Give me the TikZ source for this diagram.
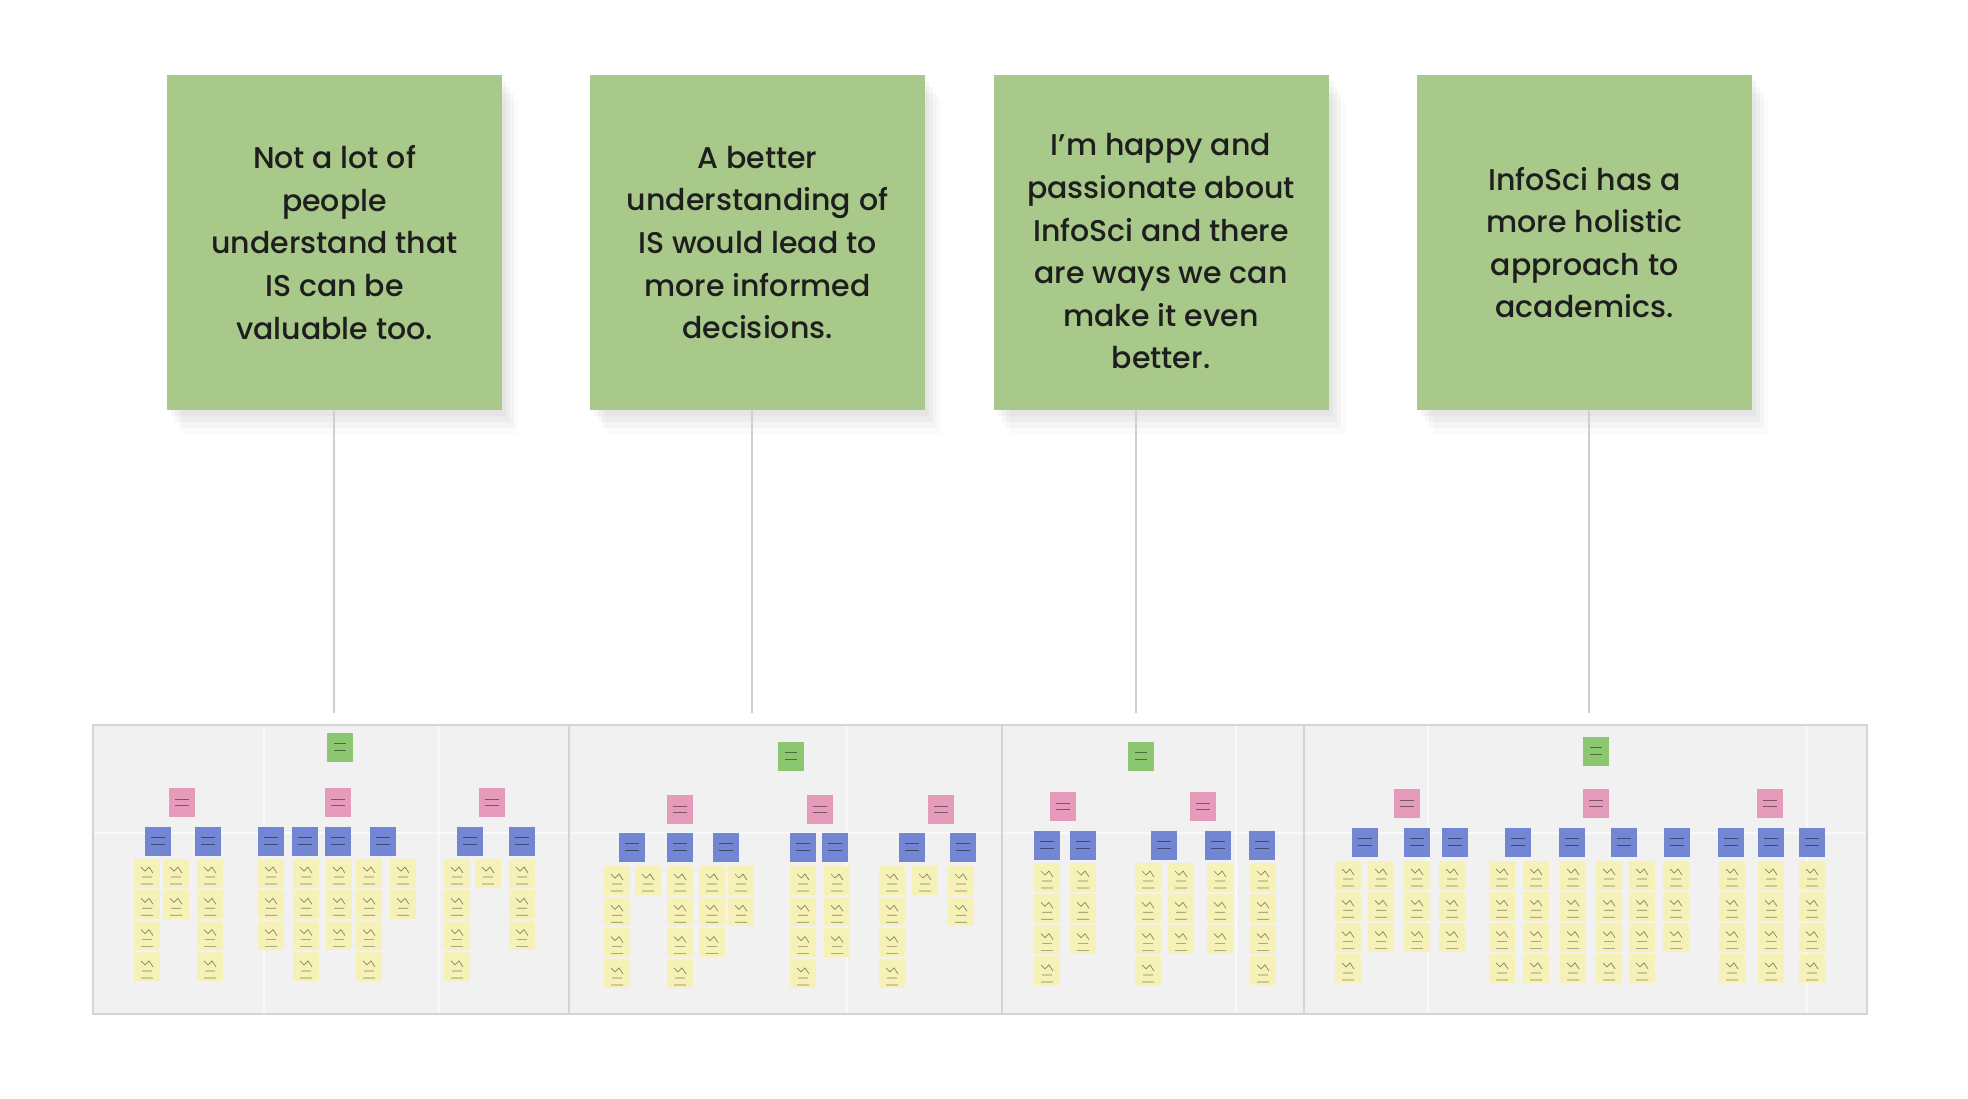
\documentclass[tikz,border=0pt]{standalone}
\usepackage{fontspec}
\setmainfont{Poppins}[UprightFont=* Medium]
\usetikzlibrary{shadows}

\definecolor{cardgreen}{HTML}{A9C98A}
\definecolor{textdark}{HTML}{1E1E1E}
\definecolor{linegray}{HTML}{CFCFCF}
\definecolor{stripgray}{HTML}{F1F1F1}
\definecolor{divgray}{HTML}{D4D4D4}
\definecolor{notegreen}{HTML}{8DC670}
\definecolor{notepink}{HTML}{E69BBA}
\definecolor{noteblue}{HTML}{7386D4}
\definecolor{noteyellow}{HTML}{F6F1B6}

\tikzset{
  card/.style={fill=cardgreen, minimum width=167.5pt, minimum height=167.5pt,
    inner sep=0pt, align=center, text=textdark,
    font=\fontsize{15}{21.3}\selectfont,
    drop shadow={shadow xshift=2pt, shadow yshift=-3pt, opacity=0.07},
    drop shadow={shadow xshift=4pt, shadow yshift=-6pt, opacity=0.06},
    drop shadow={shadow xshift=6pt, shadow yshift=-9pt, opacity=0.05},
    drop shadow={shadow xshift=8pt, shadow yshift=-12pt, opacity=0.03}},
  link/.style={linegray, line width=1.1pt},
  scribble/.style={black, opacity=0.45, line width=0.35pt},
  sticky/.style={minimum width=13pt, minimum height=14.5pt, inner sep=0pt},
  greennote/.style={sticky, fill=notegreen, path picture={
    \draw[scribble] ([xshift=-3pt,yshift=2pt]path picture bounding box.center) -- ++(6pt,0pt)
      ([xshift=-3pt,yshift=-1.5pt]path picture bounding box.center) -- ++(6pt,0pt);}},
  pinknote/.style={sticky, fill=notepink, path picture={
    \draw[scribble] ([xshift=-3.5pt,yshift=1.5pt]path picture bounding box.center) -- ++(7pt,0pt)
      ([xshift=-3.5pt,yshift=-1.5pt]path picture bounding box.center) -- ++(7pt,0pt);}},
  bluenote/.style={sticky, fill=noteblue, path picture={
    \draw[scribble] ([xshift=-3.5pt,yshift=2pt]path picture bounding box.center) -- ++(7pt,0pt)
      ([xshift=-3.5pt,yshift=-1.5pt]path picture bounding box.center) -- ++(7pt,0pt);}},
  yellownote/.style={sticky, fill=noteyellow, path picture={
    \draw[scribble] ([xshift=-3pt,yshift=3pt]path picture bounding box.center)
      -- ++(2pt,-2pt) -- ++(2pt,2pt) -- ++(2pt,-3pt)
      ([xshift=-2.5pt,yshift=-2pt]path picture bounding box.center) -- ++(5pt,0pt)
      ([xshift=-3pt,yshift=-5.5pt]path picture bounding box.center) -- ++(6pt,0pt);}}
}

\begin{document}
\begin{tikzpicture}[x=0.5pt,y=-0.5pt]
\useasboundingbox[fill=white] (0,0) rectangle (1968,1098);

% statement cards
\node[card] (card1) at (334.5,242.5) {Not a lot of\\people\\understand that\\IS can be\\valuable too.};
\node[card] (card2) at (757.5,242.5) {A better\\understanding of\\IS would lead to\\more informed\\decisions.};
\node[card] (card3) at (1161,242.5) {\rule{0pt}{20pt}I’m happy and\\passionate about\\InfoSci and there\\are ways we can\\make it even\\better.};
\node[card] (card4) at (1584.5,242.5) {InfoSci has a\\more holistic\\approach to\\academics.};

% board strip
\fill[stripgray] (93,725) rectangle (1867,1014);
\foreach \x in {264,439,847,1236,1428,1807}
  \draw[white, line width=1.2pt, opacity=0.6] (\x,726) -- (\x,1013);
\draw[white, line width=1.2pt, opacity=0.6] (94,833) -- (1866,833);
\draw[divgray, line width=0.8pt] (93,725) rectangle (1867,1014);
\foreach \x in {569,1002,1304}
  \draw[divgray, line width=1.2pt] (\x,725) -- (\x,1014);

% connectors
\coordinate (e1) at (334,713);
\coordinate (e2) at (752,713);
\coordinate (e3) at (1136,713);
\coordinate (e4) at (1589,713);
\foreach \i in {1,...,4}
  \draw[link] (card\i.south -| e\i) -- (e\i);

% top notes
\foreach \x/\y [count=\i] in {340/747, 791/756, 1141/756, 1596/751}
  \node[greennote] (g\i) at (\x,\y) {};

% section 1
\foreach \x [count=\i] in {182,338,492}
  \node[pinknote] (p1-\i) at (\x,802) {};
\foreach \x [count=\i] in {158,208,271,305,338,383,470,522}
  \node[bluenote] (b1-\i) at (\x,841) {};
\foreach \x/\n [count=\i] in {147/4,176/2,210/4,271/3,306/4,339/3,369/4,403/2,457/4,488/1,522/3}
  \foreach \r in {1,...,\n}
    \node[yellownote] (y1-\i-\r) at (\x,{873+(\r-1)*31.3}) {};

% section 2
\foreach \x [count=\i] in {680,820,941}
  \node[pinknote] (p2-\i) at (\x,809) {};
\foreach \x [count=\i] in {632,680,726,803,835,912,963}
  \node[bluenote] (b2-\i) at (\x,847) {};
\foreach \x/\n [count=\i] in {617/4,648/1,680/4,712/3,741/2,803/4,837/3,892/4,925/1,961/2}
  \foreach \r in {1,...,\n}
    \node[yellownote] (y2-\i-\r) at (\x,{880+(\r-1)*31.3}) {};

% section 3
\foreach \x [count=\i] in {1063,1203}
  \node[pinknote] (p3-\i) at (\x,806) {};
\foreach \x [count=\i] in {1047,1083,1164,1218,1262}
  \node[bluenote] (b3-\i) at (\x,845) {};
\foreach \x/\n [count=\i] in {1047/4,1083/3,1148/4,1181/3,1220/3,1263/4}
  \foreach \r in {1,...,\n}
    \node[yellownote] (y3-\i-\r) at (\x,{877+(\r-1)*31.3}) {};

% section 4
\foreach \x [count=\i] in {1407,1596,1770}
  \node[pinknote] (p4-\i) at (\x,803) {};
\foreach \x [count=\i] in {1365,1417,1455,1518,1572,1624,1677,1731,1771,1812}
  \node[bluenote] (b4-\i) at (\x,842) {};
\foreach \x/\n [count=\i] in {1348/4,1381/3,1417/3,1452/3,1502/4,1536/4,1573/4,1609/4,1642/4,1676/3,1732/4,1771/4,1812/4}
  \foreach \r in {1,...,\n}
    \node[yellownote] (y4-\i-\r) at (\x,{875+(\r-1)*31.3}) {};
\end{tikzpicture}
\end{document}
